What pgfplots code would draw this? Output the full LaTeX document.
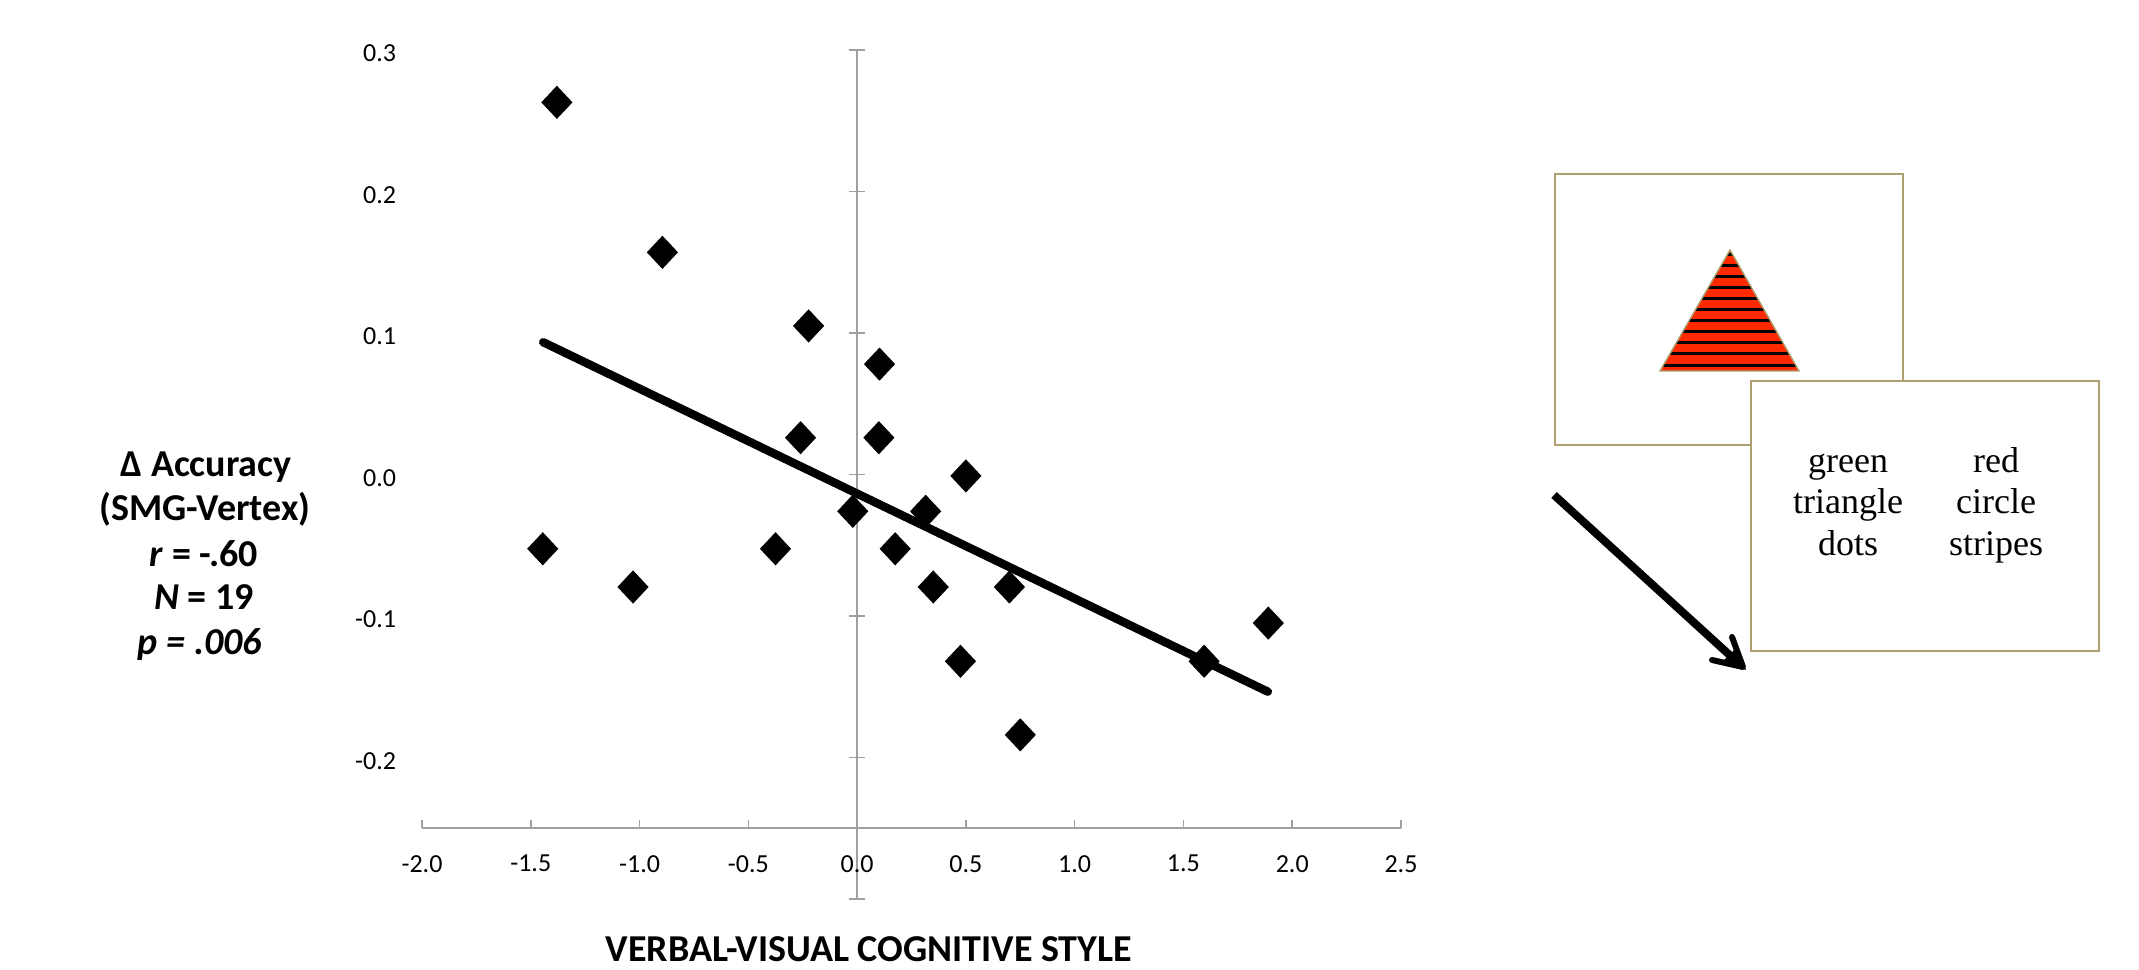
\documentclass[border=0pt]{standalone}
\usepackage{fontspec}
\setmainfont{Carlito}
\newfontfamily\stimfont{Liberation Serif}
\usepackage{pgfplots}
\pgfplotsset{compat=1.18}
\definecolor{axisgray}{RGB}{160,160,160}
\definecolor{boxtan}{RGB}{173,159,111}
\definecolor{stimred}{RGB}{255,42,0}
\begin{document}
\begin{tikzpicture}
\useasboundingbox (0,0) rectangle (1069.5pt,484.5pt);
\begin{axis}[
    at={(211pt,35pt)}, anchor=south west,
    scale only axis, width=489.5pt, height=424.5pt,
    xmin=-2, xmax=2.5, ymin=-0.3, ymax=0.3,
    clip=false,
    axis x line=bottom,
    axis y line=middle,
    axis x line shift=-35.4pt,
    axis line style={axisgray, line width=.8pt, -},
    hide obscured x ticks=false, hide obscured y ticks=false,
    xtick={-2,-1.5,-1,-0.5,0,0.5,1,1.5,2,2.5},
    xticklabels={-2.0,-1.5,-1.0,-0.5,0.0,0.5,1.0,1.5,2.0,2.5},
    ytick={-0.2,-0.1,0,0.1,0.2,0.3},
    yticklabels={-0.2,-0.1,0.0,0.1,0.2,0.3},
    minor ytick={-0.3,-0.2,-0.1,0,0.1,0.2,0.3},
    xtick align=inside, ytick align=center,
    major tick length=4pt, minor tick length=8pt,
    major x tick style={axisgray, line width=.8pt},
    major y tick style={draw=none},
    minor y tick style={axisgray, line width=.8pt},
    tick label style={font=\fontsize{13}{15}\selectfont},
    xticklabel style={yshift=-10pt},
    yticklabel style={anchor=east, xshift=-225pt, yshift=-1.7pt},
]
\addplot[black, line width=4.2pt, line cap=round]
    coordinates {(-1.443,0.0935) (1.888,-0.1535)};
\addplot[only marks, mark=diamond*, mark size=8pt, mark options={black, fill=black, xscale=1.25}]
    coordinates {
    (-1.38,0.263) (-0.895,0.157) (-0.223,0.105) (0.103,0.078)
    (-0.26,0.026) (0.10,0.026) (0.50,-0.001) (-0.02,-0.026)
    (0.315,-0.026) (-0.375,-0.0525) (-1.445,-0.0525) (0.175,-0.0525)
    (-1.03,-0.0795) (0.35,-0.0795) (0.70,-0.0795) (0.475,-0.132)
    (1.595,-0.132) (1.89,-0.105) (0.75,-0.184)};
\end{axis}
\begin{scope}[x=.5pt, y=-.5pt, yshift=484.5pt]
  % left block and x title
  \node[font=\fontsize{19}{23}\selectfont\bfseries] at (206,467) {Δ Accuracy};
  \node[font=\fontsize{19}{23}\selectfont\bfseries] at (205,509) {(SMG-Vertex)};
  \node[font=\fontsize{19}{23}\selectfont\bfseries] at (204,554) {\textit{r} = -.60};
  \node[font=\fontsize{19}{23}\selectfont\bfseries] at (204,597) {\textit{N} = 19};
  \node[font=\fontsize{19}{23}\selectfont\bfseries\itshape] at (200,645) {p = .006};
  \node[font=\fontsize{19}{23}\selectfont\bfseries] at (869,949) {VERBAL-VISUAL COGNITIVE STYLE};
  % stimulus panels
  \draw[boxtan, line width=.9pt, fill=white] (1555,174) rectangle (1903,445);
  \begin{scope}
    \clip (1730,250) -- (1660,371) -- (1799,371) -- cycle;
    \fill[stimred] (1650,245) rectangle (1810,375);
    \foreach \yy in {255,266,277,288,299,310,321,332,343,354,366}
      \draw[black, line width=1.5pt] (1650,\yy) -- (1810,\yy);
  \end{scope}
  \draw[boxtan, line width=.7pt, line join=miter] (1730,250) -- (1660,371) -- (1799,371) -- cycle;
  \draw[boxtan, line width=.9pt, fill=white] (1751,381) rectangle (2099,651);
  \foreach \txt/\yy in {green/473,triangle/514,dots/556}
    \node[font=\stimfont\fontsize{18}{22}\selectfont, anchor=base] at (1848,\yy) {\txt};
  \foreach \txt/\yy in {red/473,circle/514,stripes/556}
    \node[font=\stimfont\fontsize{18}{22}\selectfont, anchor=base] at (1996,\yy) {\txt};
  % arrow
  \draw[black, line width=4pt] (1554,495) -- (1735,660);
  \draw[black, line width=3pt, line cap=round, line join=round] (1732,637) -- (1743,667) -- (1712,660);
  \fill[black] (1746,670) -- (1736,648) -- (1722,662) -- cycle;
\end{scope}
\end{tikzpicture}
\end{document}
